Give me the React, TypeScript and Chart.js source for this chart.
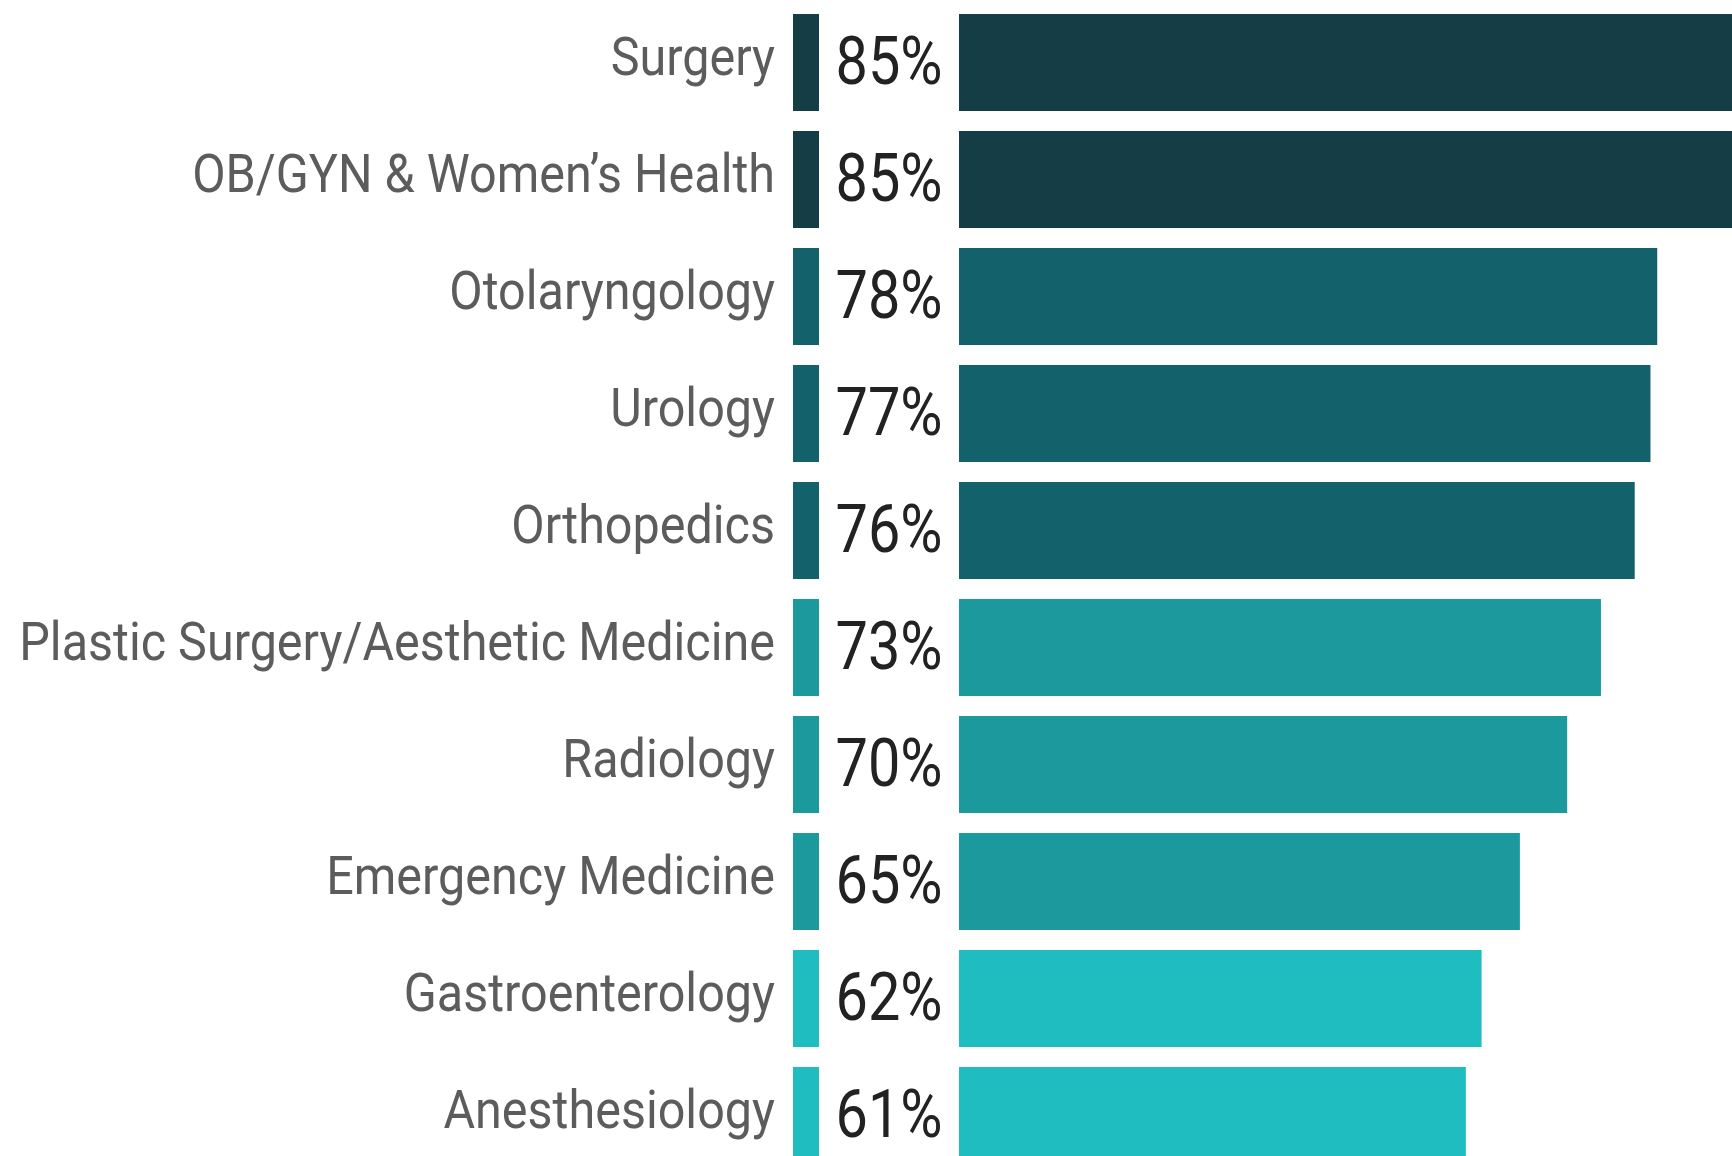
import React, { useEffect, useRef } from 'react';
import { Chart, registerables } from 'chart.js';

Chart.register(...registerables);

const categories = [
  'Surgery',
  'OB/GYN & Women’s Health',
  'Otolaryngology',
  'Urology',
  'Orthopedics',
  'Plastic Surgery/Aesthetic Medicine',
  'Radiology',
  'Emergency Medicine',
  'Gastroenterology',
  'Anesthesiology',
];
const values = [85, 85, 78, 77.4, 76, 73, 70, 65.8, 62.4, 61];
const valueLabels = ['85%', '85%', '78%', '77%', '76%', '73%', '70%', '65%', '62%', '61%'];
const barColors = [
  '#143D45', '#143D45',
  '#13626B', '#13626B', '#13626B',
  '#1B999D', '#1B999D', '#1B999D',
  '#1FBDBF', '#1FBDBF',
];
const xMin = 1.24;
const xMax = 84.64;

const W = 1732;
const H = 1174;

const labelPlugin = {
  id: 'labelOverlay',
  afterDatasetsDraw(chart: any) {
    const ctx = chart.ctx as CanvasRenderingContext2D;
    const area = chart.chartArea;
    const meta = chart.getDatasetMeta(0);
    const markerW = 26;
    const gapEnd = 166;
    ctx.save();
    meta.data.forEach((el: any, i: number) => {
      const top = el.y - el.height / 2;
      const bottom = el.y + el.height / 2;
      // white label box that separates the marker from the bar
      ctx.fillStyle = '#ffffff';
      ctx.fillRect(area.left + markerW, top - 1, gapEnd - markerW, bottom - top + 2);

      // value label (condensed look)
      const vSize = 67;
      ctx.font = `400 ${vSize}px Roboto`;
      ctx.fillStyle = '#222222';
      ctx.textAlign = 'center';
      ctx.textBaseline = 'alphabetic';
      const cx = area.left + (markerW + gapEnd) / 2;
      ctx.save();
      ctx.translate(cx, el.y + (vSize * 0.711) / 2 - 2);
      ctx.scale(0.86, 1);
      ctx.fillText(valueLabels[i], 0, 0);
      ctx.restore();

      // category label
      const cSize = 53;
      ctx.font = `${cSize}px Roboto`;
      ctx.fillStyle = '#5c5c5c';
      ctx.textAlign = 'right';
      ctx.save();
      ctx.translate(area.left - 18, el.y + (cSize * 0.711) / 2 - 6);
      ctx.scale(0.915, 1);
      ctx.fillText(categories[i], 0, 0);
      ctx.restore();
    });
    ctx.restore();
  },
};

export default function App() {
  const ref = useRef<HTMLCanvasElement | null>(null);

  useEffect(() => {
    document.body.style.margin = '0';
    document.body.style.overflow = 'hidden';
    const canvas = ref.current;
    if (!canvas) return;
    const chart = new Chart(canvas, {
      type: 'bar',
      data: {
        labels: categories,
        datasets: [
          {
            data: values,
            backgroundColor: barColors,
            borderWidth: 0,
            categoryPercentage: 1,
            barPercentage: 0.829,
          },
        ],
      },
      options: {
        indexAxis: 'y',
        responsive: false,
        animation: false,
        devicePixelRatio: 1,
        layout: { padding: { left: 793, top: 4, right: 0, bottom: 0 } },
        plugins: {
          legend: { display: false },
          tooltip: { enabled: false },
          title: { display: false },
        },
        scales: {
          x: {
            type: 'linear',
            min: xMin,
            max: xMax,
            display: false,
            grid: { display: false },
          },
          y: {
            type: 'category',
            display: false,
            grid: { display: false },
          },
        },
      },
      plugins: [labelPlugin],
    });
    return () => chart.destroy();
  }, []);

  return (
    <div style={{ width: W, height: 1156, overflow: 'hidden', position: 'relative', background: '#ffffff' }}>
      <canvas ref={ref} width={W} height={H} style={{ width: W, height: H, display: 'block' }} />
    </div>
  );
}
